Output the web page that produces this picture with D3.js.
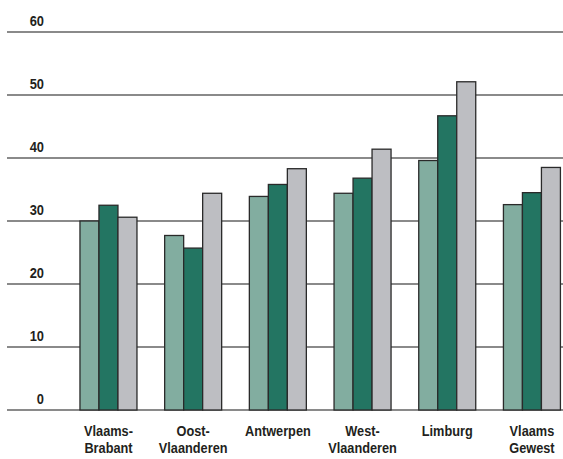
<!DOCTYPE html>
<html><head><meta charset="utf-8">
<script src="https://cdn.jsdelivr.net/npm/d3@7"></script>
<style>
html,body{margin:0;padding:0;background:#fff;}
svg{display:block;}
text{font-family:"Liberation Sans",Arial,sans-serif;font-weight:bold;fill:#231f20;}
</style></head>
<body>
<svg id="chart" width="563" height="459"></svg>
<script>
const categories = [["Vlaams-","Brabant"],["Oost-","Vlaanderen"],["Antwerpen"],["West-","Vlaanderen"],["Limburg"],["Vlaams","Gewest"]];
const series1 = [30.0, 27.7, 33.9, 34.4, 39.6, 32.6];
const series2 = [32.5, 25.7, 35.8, 36.8, 46.7, 34.5];
const series3 = [30.6, 34.4, 38.3, 41.4, 52.1, 38.5];
const yTicks = [0, 10, 20, 30, 40, 50, 60];
const colors = ["#82ada0", "#237562", "#bdbec2"];

const svg = d3.select("#chart");
const y = d3.scaleLinear().domain([0, 60]).range([410, 32]);
const x = d3.scaleBand().domain(d3.range(categories.length)).range([71.5, 568.9]).paddingInner(0.327).paddingOuter(0.1);
const xs = d3.scaleBand().domain([0,1,2]).range([0, x.bandwidth()]);

// gridlines
svg.append("g").selectAll("line").data(yTicks).join("line")
  .attr("x1", 7).attr("x2", 563)
  .attr("y1", d => y(d)).attr("y2", d => y(d))
  .attr("stroke", "#8a8a8a").attr("stroke-width", 2);

// y labels
svg.append("g").selectAll("text").data(yTicks).join("text")
  .attr("transform", d => `translate(44,${y(d) - 6}) scale(0.92,1)`)
  .attr("text-anchor", "end").attr("font-size", 14)
  .text(d => d);

const allSeries = [series1, series2, series3];
const g = svg.append("g");
categories.forEach((c, i) => {
  allSeries.forEach((s, j) => {
    g.append("rect")
      .attr("x", x(i) + xs(j))
      .attr("y", y(s[i]))
      .attr("width", xs.bandwidth())
      .attr("height", y(0) - y(s[i]))
      .attr("fill", colors[j])
      .attr("stroke", "#2a2a2a").attr("stroke-width", 1.3);
  });
});

// x labels
const xl = svg.append("g");
categories.forEach((c, i) => {
  const t = xl.append("text")
    .attr("transform", `translate(${x(i) + x.bandwidth() / 2},436) scale(0.85,1)`)
    .attr("text-anchor", "middle").attr("font-size", 15);
  c.forEach((line, k) => {
    t.append("tspan").attr("x", 0).attr("dy", k === 0 ? 0 : 17.5).text(line);
  });
});
</script>
</body></html>
